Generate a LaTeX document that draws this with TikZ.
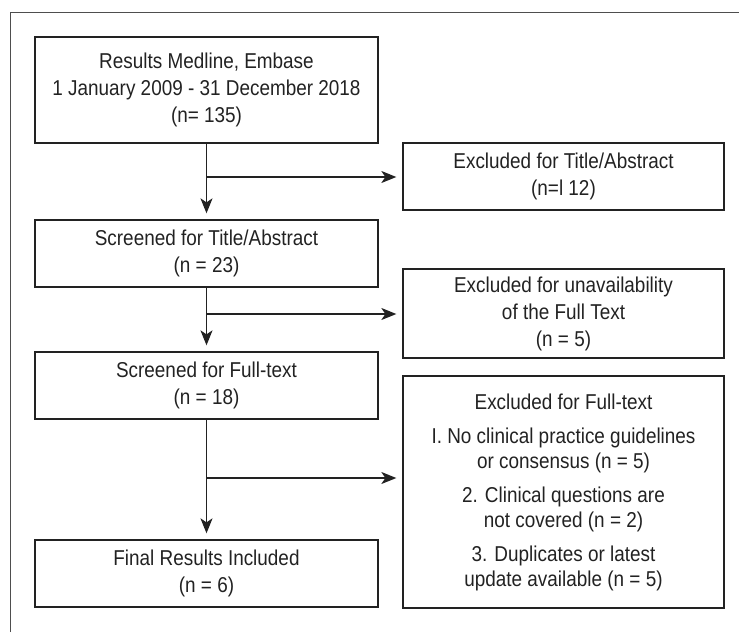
\documentclass[tikz,border=0pt]{standalone}
\usepackage{fontspec}
\setmainfont{Liberation Sans}[FakeStretch=0.88]
\usepackage{tikz}
\usetikzlibrary{arrows.meta}

\definecolor{inkgray}{HTML}{222222}

\tikzset{
  flowbox/.style={draw=inkgray, line width=1.3pt, align=center, text=inkgray,
    font=\fontsize{21.5}{27}\selectfont, inner sep=2pt},
  mainbox/.style={flowbox, minimum width=343pt, minimum height=67pt},
  exclbox/.style={flowbox, minimum width=321pt},
  arr/.style={draw=inkgray, line width=1.3pt, -{Stealth[length=15pt,width=12pt,inset=4pt]}},
  line/.style={draw=inkgray, line width=1.3pt}
}

\begin{document}
\begin{tikzpicture}[x=1pt,y=-1pt]
    \useasboundingbox (0,0) rectangle (739,632);
    % frame
    \draw[draw=inkgray!80, line width=1pt] (10,632) -- (10,12) -- (739,12);
    % main column
    \node[mainbox, minimum height=106pt] (search) at (206.5,90) {Results Medline, Embase\\1 January 2009 - 31 December 2018\\(n= 135)};
    \node[mainbox] (title) at (206.5,253.5) {Screened for Title/Abstract\\(n = 23)};
    \node[mainbox] (full) at (206.5,385.5) {Screened for Full-text\\(n = 18)};
    \node[mainbox] (final) at (206.5,573.5) {Final Results Included\\(n = 6)};
    % excluded column
    \node[exclbox, minimum height=67pt] (exTitle) at (563.5,176.5) {Excluded for Title/Abstract\\(n=l 12)};
    \node[exclbox, minimum height=89pt] (exAvail) at (563.5,313.5) {Excluded for unavailability\\of the Full Text\\(n = 5)};
    \node[exclbox, minimum height=232pt, font=\fontsize{21.5}{25}\selectfont] (exFull) at (563.5,492) {Excluded for Full-text\\[9pt]
      I. No clinical practice guidelines\\or consensus (n = 5)\\[9pt]
      2. Clinical questions are\\not covered (n = 2)\\[9pt]
      3. Duplicates or latest\\update available (n = 5)};
    % branch points
    \coordinate (brTitle) at (206.5,177);
    \coordinate (brAvail) at (206.5,314);
    \coordinate (brFull) at (206.5,478);
    % arrows down
    \draw[arr, shorten >=6pt] (search) -- (title);
    \draw[arr, shorten >=6pt] (title) -- (full);
    \draw[arr, shorten >=6pt] (full) -- (final);
    % arrows right
    \draw[arr, shorten >=6pt] (brTitle) -- (brTitle -| exTitle.west);
    \draw[arr, shorten >=6pt] (brAvail) -- (brAvail -| exAvail.west);
    \draw[arr, shorten >=6pt] (brFull) -- (brFull -| exFull.west);
\end{tikzpicture}
\end{document}
